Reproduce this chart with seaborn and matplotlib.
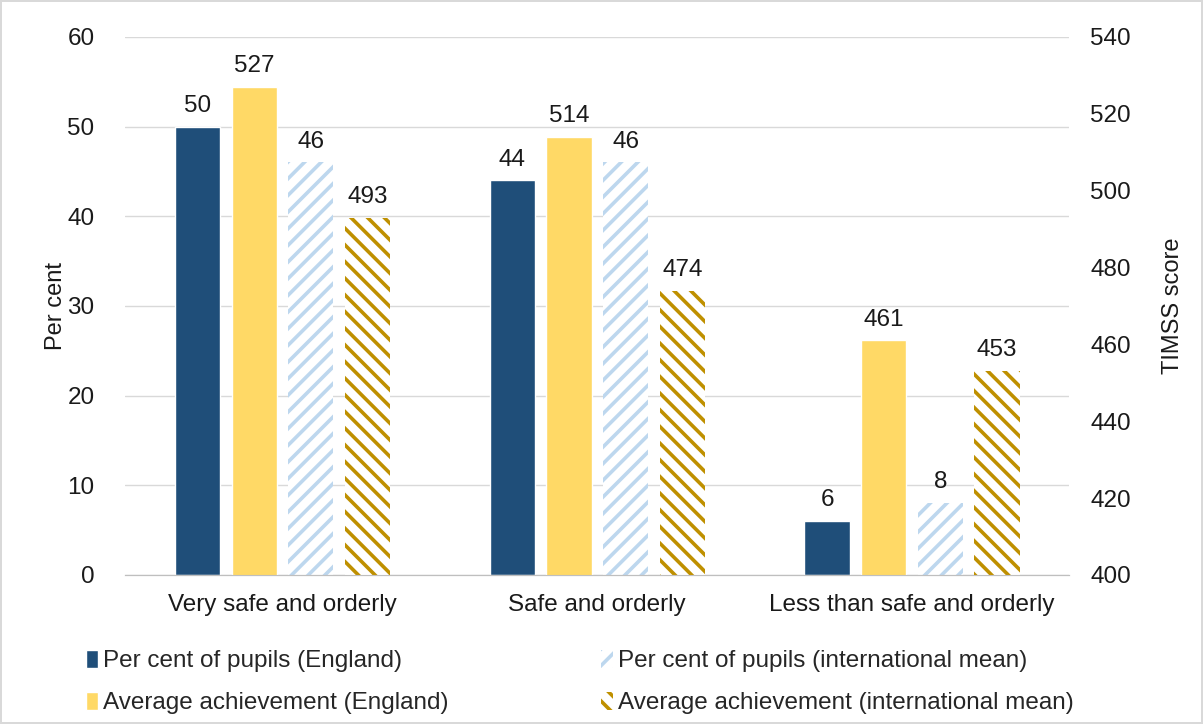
import pandas as pd
import numpy as np
import matplotlib
matplotlib.use("Agg")
import matplotlib.pyplot as plt
import seaborn as sns
from matplotlib.patches import Patch

categories = ["Very safe and orderly", "Safe and orderly", "Less than safe and orderly"]
series = ["Per cent of pupils (England)", "Average achievement (England)",
          "Per cent of pupils (international mean)", "Average achievement (international mean)"]
pct_england = [50, 44, 6]
pct_intl = [46, 46, 8]
score_england = [527, 514, 461]
score_intl = [493, 474, 453]

colors = ["#1F4E79", "#FFD966", "#BDD7EE", "#BF9000"]

rows = []
for i, c in enumerate(categories):
    rows.append((c, series[0], pct_england[i], np.nan))
    rows.append((c, series[1], np.nan, score_england[i]))
    rows.append((c, series[2], pct_intl[i], np.nan))
    rows.append((c, series[3], np.nan, score_intl[i]))
df = pd.DataFrame(rows, columns=["category", "series", "pct", "score"])

sns.set_style("white")
plt.rcParams["font.family"] = ["Liberation Sans", "DejaVu Sans"]
plt.rcParams["hatch.linewidth"] = 2.6

fig = plt.figure(figsize=(12.03, 7.24), dpi=100)
fig.patch.set_edgecolor("#D9D9D9")
fig.patch.set_linewidth(1.5)
ax1 = fig.add_axes([0.104, 0.206, 0.785, 0.743])
ax2 = ax1.twinx()

pal = dict(zip(series, colors))
sns.barplot(data=df, x="category", y="pct", hue="series", hue_order=series, order=categories,
            palette=pal, saturation=1, width=0.72, gap=0.2, ax=ax1, legend=False, errorbar=None)
sns.barplot(data=df, x="category", y="score", hue="series", hue_order=series, order=categories,
            palette=pal, saturation=1, width=0.72, gap=0.2, ax=ax2, legend=False, errorbar=None)

# hatch the international mean bars
hatches = {colors[2]: "//", colors[3]: "\\\\"}
for ax in (ax1, ax2):
    for cont in ax.containers:
        for p in cont.patches:
            fc = matplotlib.colors.to_hex(p.get_facecolor()).upper()
            if fc in hatches:
                p.set_facecolor("white")
                p.set_edgecolor(fc)
                p.set_hatch(hatches[fc])
                p.set_linewidth(0)

for ax in (ax1, ax2):
    for cont in ax.containers:
        ax.bar_label(cont, fmt="%g", padding=7, fontsize=17.5, color="#1a1a1a")

ax1.set_ylim(0, 60)
ax1.set_yticks(range(0, 61, 10))
ax2.set_ylim(400, 540)
ax2.set_yticks(range(400, 541, 20))
ax1.set_xlim(-0.5, 2.5)

ax1.yaxis.grid(True, color="#D9D9D9", linewidth=1)
ax1.set_axisbelow(True)
for ax in (ax1, ax2):
    for s in ["top", "left", "right"]:
        ax.spines[s].set_visible(False)
    ax.spines["bottom"].set_color("#BFBFBF")
    ax.tick_params(axis="both", labelsize=17.5, length=0, colors="#1a1a1a")
ax1.tick_params(axis="y", pad=22)
ax1.tick_params(axis="x", pad=14)
ax2.tick_params(axis="y", pad=15)

ax1.set_xlabel("")
ax1.set_ylabel("Per cent", fontsize=17, color="#1a1a1a", labelpad=0)
ax2.set_ylabel("TIMSS score", fontsize=17, color="#1a1a1a", labelpad=22)

handles = [Patch(facecolor=colors[0]), Patch(facecolor=colors[1]),
           Patch(facecolor="white", edgecolor=colors[2], hatch="//", linewidth=0),
           Patch(facecolor="white", edgecolor=colors[3], hatch="\\\\", linewidth=0)]
fig.legend(handles, series, ncol=2, loc="lower left", bbox_to_anchor=(0.053, -0.017), frameon=False,
           fontsize=17.5, handlelength=0.5, handleheight=0.8, handletextpad=0.2,
           columnspacing=6.3, labelspacing=0.8)

fig.savefig("out.png", dpi=100)
